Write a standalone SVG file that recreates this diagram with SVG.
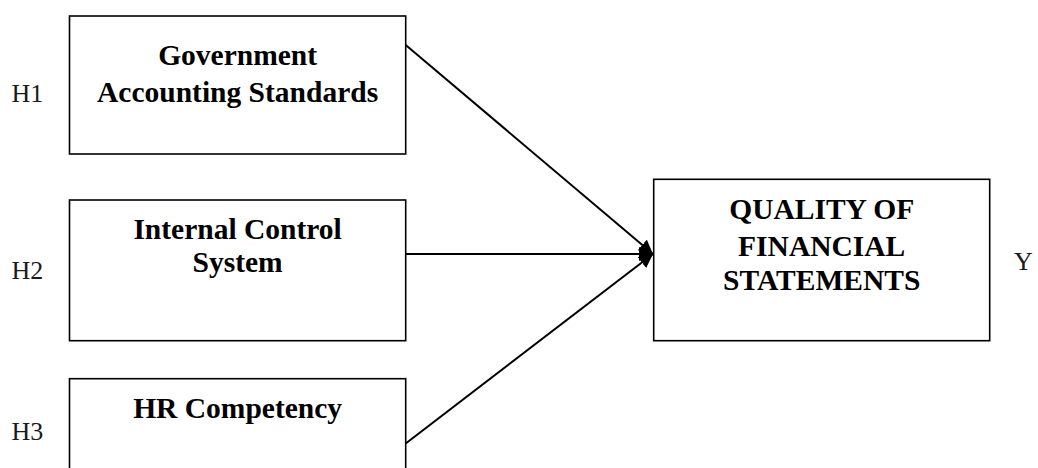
<svg xmlns="http://www.w3.org/2000/svg" width="1038" height="468" viewBox="0 0 1038 468">
<style>
.box{fill:#fff;stroke:#000;stroke-width:1.6}
.t{font-family:"Liberation Serif","Times New Roman",serif;font-weight:bold;font-size:29.5px;fill:#000;text-anchor:middle}
.h{font-family:"Liberation Serif","Times New Roman",serif;font-size:26px;fill:#1a1a1a}
.c{stroke:#000;stroke-width:2;fill:none;marker-end:url(#ah)}
</style>
<defs>
<marker id="ah" viewBox="0 0 10 10" refX="10" refY="5" markerWidth="7" markerHeight="7" orient="auto" markerUnits="strokeWidth">
<path d="M0,0 L10,5 L0,10 z" fill="#000"/>
</marker>
</defs>
<g id="connectors">
<line class="c" x1="405.7" y1="45" x2="653" y2="254"/>
<line class="c" x1="405.7" y1="254" x2="653" y2="254"/>
<line class="c" x1="405.7" y1="443.5" x2="653" y2="254"/>
</g>
<g id="node-gas">
<rect class="box" x="69.5" y="16" width="336.2" height="138"/>
<text class="t" x="237.6" y="65">Government</text>
<text class="t" x="237.6" y="101.5">Accounting Standards</text>
</g>
<g id="node-ics">
<rect class="box" x="69.5" y="200" width="336.2" height="140.7"/>
<text class="t" x="237.6" y="239">Internal Control</text>
<text class="t" x="237.6" y="272">System</text>
</g>
<g id="node-hr">
<rect class="box" x="69.5" y="378.7" width="336.2" height="100"/>
<text class="t" x="237.6" y="418">HR Competency</text>
</g>
<g id="node-qfs">
<rect class="box" x="653.7" y="179.3" width="336" height="161.4"/>
<text class="t" x="821.7" y="219">QUALITY OF</text>
<text class="t" x="821.7" y="255.5">FINANCIAL</text>
<text class="t" x="821.7" y="290">STATEMENTS</text>
</g>
<g id="labels">
<text class="h" x="11.5" y="101.5">H1</text>
<text class="h" x="11.5" y="278.5">H2</text>
<text class="h" x="11.5" y="440">H3</text>
<text class="h" x="1014" y="270">Y</text>
</g>
</svg>
